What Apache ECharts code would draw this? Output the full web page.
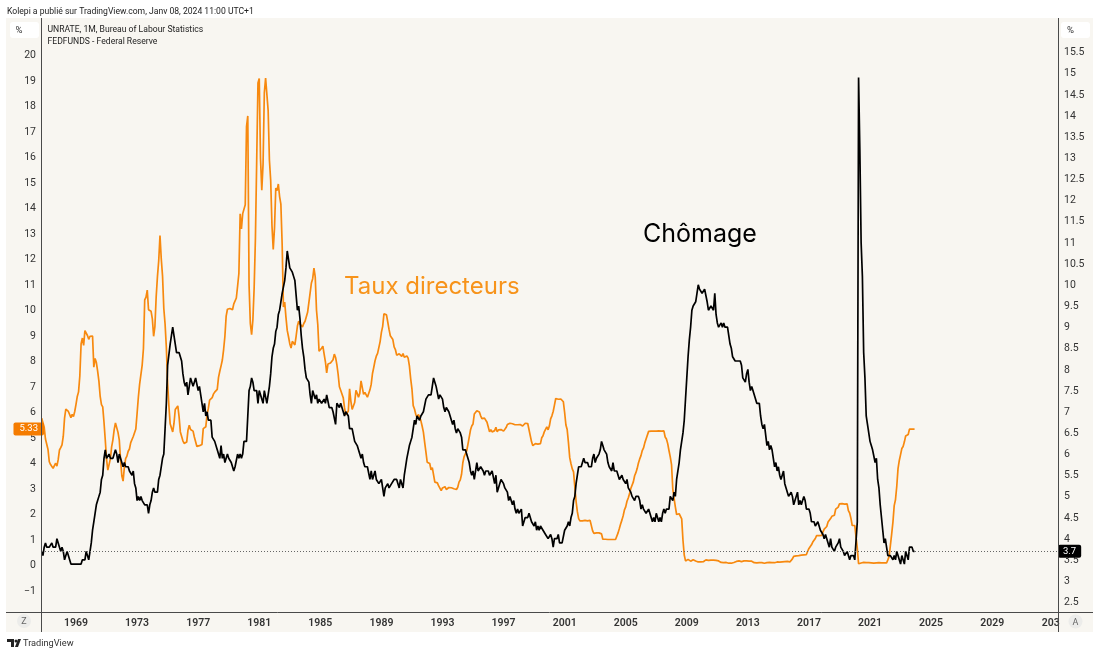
<!DOCTYPE html>
<html><head><meta charset="utf-8">
<style>html,body{margin:0;padding:0;background:#fff}#c{width:1100px;height:655px}</style>
<script src="https://cdn.jsdelivr.net/npm/echarts@6/dist/echarts.min.js"></script>
</head><body><div id="c"></div>
<script>
// Monthly series, first point October 1966
const firstYear = 1966, firstMonth = 9;
const unrate = [3.7,3.6,3.8,
3.9,3.8,3.8,3.8,3.8,3.9,3.8,3.8,3.8,4.0,3.9,3.8,
3.7,3.8,3.7,3.5,3.5,3.7,3.7,3.5,3.4,3.4,3.4,3.4,
3.4,3.4,3.4,3.4,3.4,3.5,3.5,3.5,3.7,3.7,3.5,3.5,
3.9,4.2,4.4,4.6,4.8,4.9,5.0,5.1,5.4,5.5,5.9,6.1,
5.9,5.9,6.0,5.9,5.9,5.9,6.0,6.1,6.0,5.8,6.0,6.0,
5.8,5.7,5.8,5.7,5.7,5.7,5.6,5.6,5.5,5.6,5.3,5.2,
4.9,5.0,4.9,5.0,4.9,4.9,4.8,4.8,4.8,4.6,4.8,4.9,
5.1,5.2,5.1,5.1,5.1,5.4,5.5,5.5,5.9,6.0,6.6,7.2,
8.1,8.1,8.6,8.8,9.0,8.8,8.6,8.4,8.4,8.4,8.3,8.2,
7.9,7.7,7.6,7.7,7.4,7.6,7.8,7.8,7.6,7.7,7.8,7.8,
7.5,7.6,7.4,7.2,7.0,7.2,6.9,7.0,6.8,6.8,6.8,6.4,
6.4,6.3,6.3,6.1,6.0,5.9,6.2,5.9,6.0,5.8,5.9,6.0,
5.9,5.9,5.8,5.8,5.6,5.7,5.7,6.0,5.9,6.0,5.9,6.0,
6.3,6.3,6.3,6.9,7.5,7.6,7.8,7.7,7.5,7.5,7.5,7.2,
7.5,7.4,7.4,7.2,7.5,7.5,7.2,7.4,7.6,7.9,8.3,8.5,
8.6,8.9,9.0,9.3,9.4,9.6,9.8,9.8,10.1,10.4,10.8,10.8,
10.4,10.4,10.3,10.2,10.1,10.1,9.4,9.5,9.2,8.8,8.5,8.3,
8.0,7.8,7.8,7.7,7.4,7.2,7.5,7.5,7.3,7.4,7.2,7.3,
7.3,7.2,7.2,7.3,7.2,7.4,7.4,7.1,7.1,7.1,7.0,7.0,
6.7,7.2,7.2,7.1,7.2,7.2,7.0,6.9,7.0,7.0,6.9,6.6,
6.6,6.6,6.6,6.3,6.3,6.2,6.1,6.0,5.9,6.0,5.8,5.7,
5.7,5.7,5.7,5.4,5.6,5.4,5.4,5.6,5.4,5.4,5.3,5.3,
5.4,5.2,5.0,5.2,5.2,5.3,5.2,5.2,5.3,5.3,5.4,5.4,
5.4,5.3,5.2,5.4,5.4,5.2,5.5,5.7,5.9,5.9,6.2,6.3,
6.4,6.6,6.8,6.7,6.9,6.9,6.8,6.9,6.9,7.0,7.0,7.3,
7.3,7.4,7.4,7.4,7.6,7.8,7.7,7.6,7.6,7.3,7.4,7.4,
7.3,7.1,7.0,7.1,7.1,7.0,6.9,6.8,6.7,6.8,6.6,6.5,
6.6,6.6,6.5,6.4,6.1,6.1,6.1,6.0,5.9,5.8,5.6,5.5,
5.6,5.4,5.4,5.8,5.6,5.6,5.7,5.7,5.6,5.5,5.6,5.6,
5.6,5.5,5.5,5.6,5.6,5.3,5.5,5.1,5.2,5.2,5.4,5.4,
5.3,5.2,5.2,5.1,4.9,5.0,4.9,4.8,4.9,4.7,4.6,4.7,
4.6,4.6,4.7,4.3,4.4,4.5,4.5,4.5,4.6,4.5,4.4,4.4,
4.3,4.4,4.2,4.3,4.2,4.3,4.3,4.2,4.2,4.1,4.1,4.0,
4.0,4.1,4.0,3.8,4.0,4.0,4.0,4.1,3.9,3.9,3.9,3.9,
4.2,4.2,4.3,4.4,4.3,4.5,4.6,4.9,5.0,5.3,5.5,5.7,
5.7,5.7,5.7,5.9,5.8,5.8,5.8,5.7,5.7,5.7,5.9,6.0,
5.8,5.9,5.9,6.0,6.1,6.3,6.2,6.1,6.1,6.0,5.8,5.7,
5.7,5.6,5.8,5.6,5.6,5.6,5.5,5.4,5.4,5.5,5.4,5.4,
5.3,5.4,5.2,5.2,5.1,5.0,5.0,4.9,5.0,5.0,5.0,4.9,
4.7,4.8,4.7,4.7,4.6,4.6,4.7,4.7,4.5,4.4,4.5,4.4,
4.6,4.5,4.4,4.5,4.4,4.6,4.7,4.6,4.7,4.7,4.7,5.0,
5.0,4.9,5.1,5.0,5.4,5.6,5.8,6.1,6.1,6.5,6.8,7.3,
7.8,8.3,8.7,9.0,9.4,9.5,9.5,9.6,9.8,10.0,9.9,9.9,
9.8,9.8,9.9,9.9,9.6,9.4,9.4,9.5,9.5,9.4,9.8,9.3,
9.1,9.0,9.0,9.1,9.0,9.1,9.0,9.0,9.0,8.8,8.6,8.5,
8.3,8.3,8.2,8.2,8.2,8.2,8.2,8.1,7.8,7.8,7.7,7.9,
8.0,7.7,7.5,7.6,7.5,7.5,7.3,7.2,7.2,7.2,6.9,6.7,
6.6,6.7,6.7,6.2,6.3,6.1,6.2,6.1,5.9,5.7,5.8,5.6,
5.7,5.5,5.4,5.4,5.6,5.3,5.2,5.1,5.0,5.0,5.1,5.0,
4.8,4.9,5.0,5.1,4.8,4.9,4.8,4.9,5.0,4.9,4.7,4.7,
4.7,4.6,4.4,4.4,4.4,4.3,4.3,4.4,4.3,4.2,4.2,4.1,
4.0,4.1,4.0,4.0,3.8,4.0,3.8,3.8,3.7,3.8,3.8,3.9,
4.0,3.8,3.8,3.7,3.6,3.6,3.7,3.6,3.5,3.6,3.6,3.6,
3.5,3.5,4.4,14.9,13.2,11.0,10.2,8.4,7.8,6.9,6.7,6.7,
6.3,6.2,6.1,6.1,5.8,5.9,5.4,5.2,4.8,4.5,4.2,3.9,
4.0,3.8,3.6,3.6,3.6,3.6,3.5,3.6,3.5,3.7,3.6,3.5,
3.4,3.6,3.5,3.4,3.7,3.6,3.5,3.8,3.8,3.8,3.7,3.7];
const fedfunds = [5.76,5.76,5.40,
4.94,5.00,4.53,4.05,3.94,3.98,3.79,3.90,3.99,3.88,4.13,4.51,
4.60,4.71,5.05,5.76,6.11,6.07,6.02,6.03,5.78,5.91,5.82,6.02,
6.30,6.61,6.79,7.41,8.67,8.90,8.61,9.19,9.15,9.00,8.85,8.97,
8.98,8.98,7.76,8.10,7.94,7.60,7.21,6.61,6.29,6.20,5.60,4.90,
4.14,3.72,3.71,4.16,4.63,4.91,5.31,5.57,5.55,5.20,4.91,4.14,
3.50,3.29,3.83,4.17,4.27,4.46,4.55,4.80,4.87,5.04,5.06,5.33,
5.94,6.58,7.09,7.12,7.84,8.49,10.40,10.50,10.78,10.01,10.03,9.95,
9.65,8.97,9.35,10.51,11.31,11.93,12.92,12.01,11.34,10.06,9.45,8.53,
7.13,6.24,5.54,5.49,5.22,5.55,6.10,6.14,6.24,5.82,5.22,5.20,
4.87,4.77,4.84,4.82,5.29,5.48,5.31,5.29,5.25,5.02,4.95,4.65,
4.61,4.68,4.69,4.73,5.35,5.39,5.42,5.90,6.14,6.47,6.51,6.56,
6.70,6.78,6.79,6.89,7.36,7.60,7.81,8.04,8.45,8.96,9.76,10.03,
10.07,10.06,10.09,10.01,10.24,10.29,10.47,10.94,11.43,13.77,13.18,13.78,
13.82,14.13,17.19,17.61,10.98,9.47,9.03,9.61,10.87,12.81,15.85,18.90,
19.08,15.93,14.70,15.72,18.52,19.10,19.04,17.82,15.87,15.08,13.31,12.37,
13.22,14.78,14.68,14.94,14.45,14.15,12.59,10.12,10.31,9.71,9.20,8.95,
8.68,8.51,8.77,8.80,8.63,8.98,9.37,9.56,9.45,9.48,9.34,9.47,
9.56,9.59,9.91,10.29,10.32,11.06,11.23,11.64,11.30,9.99,9.43,8.38,
8.35,8.50,8.58,8.27,7.97,7.53,7.88,7.90,7.92,7.99,8.05,8.27,
8.14,7.86,7.48,6.99,6.85,6.92,6.56,6.17,5.89,5.85,6.04,6.91,
6.43,6.10,6.13,6.37,6.85,6.73,6.58,6.73,7.22,7.29,6.69,6.77,
6.83,6.58,6.58,6.87,7.09,7.51,7.75,8.01,8.19,8.30,8.35,8.76,
9.12,9.36,9.85,9.84,9.81,9.53,9.24,8.99,9.02,8.84,8.55,8.45,
8.23,8.24,8.28,8.26,8.18,8.29,8.15,8.13,8.20,8.11,7.81,7.31,
6.91,6.25,6.12,5.91,5.78,5.90,5.82,5.66,5.45,5.21,4.81,4.43,
4.03,4.06,3.98,3.73,3.82,3.76,3.25,3.30,3.22,3.10,3.09,2.92,
3.02,3.03,3.07,2.96,3.00,3.04,3.06,3.03,3.09,2.99,3.02,2.96,
3.05,3.25,3.34,3.56,4.01,4.25,4.26,4.47,4.73,4.76,5.29,5.45,
5.53,5.92,5.98,6.05,6.01,6.00,5.85,5.74,5.80,5.76,5.80,5.60,
5.56,5.22,5.31,5.22,5.24,5.27,5.40,5.22,5.30,5.24,5.31,5.29,
5.25,5.19,5.39,5.51,5.50,5.56,5.52,5.54,5.54,5.50,5.52,5.50,
5.56,5.51,5.49,5.45,5.49,5.56,5.54,5.55,5.51,5.07,4.83,4.68,
4.63,4.76,4.81,4.74,4.74,4.76,4.99,5.07,5.22,5.20,5.42,5.30,
5.45,5.73,5.85,6.02,6.27,6.53,6.54,6.50,6.52,6.51,6.51,6.40,
5.98,5.49,5.31,4.80,4.21,3.97,3.77,3.65,3.07,2.49,2.09,1.82,
1.73,1.74,1.73,1.75,1.75,1.75,1.73,1.74,1.75,1.75,1.34,1.24,
1.24,1.26,1.25,1.26,1.26,1.22,1.01,1.03,1.01,1.01,1.00,0.98,
1.00,1.01,1.00,1.00,1.00,1.03,1.26,1.43,1.61,1.76,1.93,2.16,
2.28,2.50,2.63,2.79,3.00,3.04,3.26,3.50,3.62,3.78,4.00,4.16,
4.29,4.49,4.59,4.79,4.94,4.99,5.24,5.25,5.25,5.25,5.25,5.24,
5.25,5.26,5.26,5.25,5.25,5.25,5.26,5.02,4.94,4.76,4.49,4.24,
3.94,2.98,2.61,2.28,1.98,2.00,2.01,2.00,1.81,0.97,0.39,0.16,
0.15,0.22,0.18,0.15,0.18,0.21,0.16,0.16,0.15,0.12,0.12,0.12,
0.11,0.13,0.16,0.20,0.20,0.18,0.18,0.19,0.19,0.19,0.19,0.18,
0.17,0.16,0.14,0.10,0.09,0.09,0.07,0.10,0.08,0.07,0.08,0.07,
0.08,0.10,0.13,0.14,0.16,0.16,0.16,0.13,0.14,0.16,0.16,0.16,
0.14,0.15,0.14,0.15,0.11,0.09,0.09,0.08,0.08,0.09,0.08,0.09,
0.07,0.07,0.08,0.09,0.09,0.10,0.09,0.09,0.09,0.09,0.09,0.12,
0.11,0.11,0.11,0.12,0.12,0.13,0.13,0.14,0.14,0.12,0.12,0.24,
0.34,0.38,0.36,0.37,0.37,0.38,0.39,0.40,0.40,0.40,0.41,0.54,
0.65,0.66,0.79,0.90,0.91,1.04,1.15,1.16,1.15,1.15,1.16,1.30,
1.41,1.42,1.51,1.69,1.70,1.82,1.91,1.91,1.95,2.19,2.20,2.27,
2.40,2.40,2.41,2.42,2.39,2.38,2.40,2.13,2.04,1.83,1.55,1.55,
1.55,1.58,0.65,0.05,0.05,0.08,0.09,0.10,0.09,0.09,0.09,0.09,
0.09,0.08,0.07,0.07,0.06,0.08,0.10,0.09,0.08,0.08,0.08,0.08,
0.08,0.08,0.20,0.33,0.77,1.21,1.68,2.33,2.56,3.08,3.78,4.10,
4.33,4.57,4.65,4.83,5.06,5.08,5.12,5.33,5.33,5.33,5.33,5.33];
const xTicks = [1969,1973,1977,1981,1985,1989,1993,1997,2001,2005,2009,2013,2017,2021,2025,2029,2033];
const leftTicks = [-1,0,1,2,3,4,5,6,7,8,9,10,11,12,13,14,15,16,17,18,19,20];
const rightTicks = [2.5,3,3.5,4,4.5,5,5.5,6,6.5,7,7.5,8,8.5,9,9.5,10,10.5,11,11.5,12,12.5,13,13.5,14,14.5,15,15.5];
const lastFed = 5.33, lastUnrate = 3.7;

const FONT = 'Roboto, "Liberation Sans", sans-serif';
const BIG = 'Inter, Roboto, sans-serif';
const BG = '#f8f6f1', AXIS = '#4a4a4a', TXT = '#333', ORANGE = '#f7890f';
const toXY = (arr) => arr.map((v, i) => [firstYear + (firstMonth + i) / 12, v]);

const chart = echarts.init(document.getElementById('c'), null, {renderer: 'canvas'});
const txt = (x, y, text, size, fill, extra) => ({type: 'text', z: 20, x, y, style: Object.assign({text, font: size + 'px ' + FONT, fill, textVerticalAlign: 'middle'}, extra || {})});
chart.setOption({
  animation: false,
  backgroundColor: '#fff',
  textStyle: {fontFamily: FONT},
  grid: {left: 42, right: 42, top: 18, bottom: 43},
  xAxis: {
    type: 'value', min: 1966.773, max: 2033.31,
    splitLine: {show: false}, axisLine: {show: false}, axisTick: {show: false},
    axisLabel: {
      customValues: xTicks, margin: 6, color: TXT, fontFamily: FONT, fontSize: 10.5, fontWeight: 600, hideOverlap: false,
      formatter: (v) => v === 2033 ? '{cut|203}' : String(v),
      rich: {cut: {padding: [0, 5, 0, 0], color: TXT, fontFamily: FONT, fontSize: 10.5, fontWeight: 600}}
    }
  },
  yAxis: [
    {type: 'value', position: 'left', min: -1.843, max: 21.451,
     splitLine: {show: false}, axisLine: {show: false}, axisTick: {show: false},
     axisLabel: {customValues: leftTicks, margin: 6, verticalAlign: 'top', padding: [-5, 0, 0, 0], color: TXT, fontFamily: FONT, fontSize: 10.5,
       formatter: (v) => String(v).replace('-', '\u2212')}},
    {type: 'value', position: 'right', min: 2.267, max: 16.307,
     splitLine: {show: false}, axisLine: {show: false}, axisTick: {show: false},
     axisLabel: {customValues: rightTicks, margin: 6, verticalAlign: 'top', padding: [-5, 0, 0, 0], color: TXT, fontFamily: FONT, fontSize: 10.5}}
  ],
  series: [
    {name: 'FEDFUNDS', type: 'line', yAxisIndex: 0, data: toXY(fedfunds), showSymbol: false, symbol: 'none',
     lineStyle: {color: ORANGE, width: 1.7}, z: 3, silent: true,
     markLine: {silent: true, symbol: 'none', animation: false, lineStyle: {color: 'rgba(0,0,0,0)', width: 0},
       data: [{yAxis: lastFed}],
       label: {position: 'start', distance: -2, formatter: String(lastFed), color: '#fff', backgroundColor: '#f57c00',
         borderRadius: 2, padding: [2, 6, 1, 6], fontSize: 9.5, fontFamily: FONT}}},
    {name: 'UNRATE', type: 'line', yAxisIndex: 1, data: toXY(unrate), showSymbol: false, symbol: 'none',
     lineStyle: {color: '#000', width: 1.7}, z: 4, silent: true,
     markLine: {silent: true, symbol: 'none', animation: false,
       lineStyle: {color: '#666', type: [1, 2], width: 1},
       data: [{yAxis: lastUnrate}],
       label: {position: 'end', distance: 0, formatter: String(lastUnrate), color: '#fff', backgroundColor: '#000',
         borderRadius: 2, padding: [2, 5, 1, 5], fontSize: 9.5, fontFamily: FONT}}}
  ],
  graphic: [
    {type: 'rect', z: -10, shape: {x: 6, y: 18, width: 1087, height: 614}, style: {fill: BG}},
    {type: 'line', z: 10, shape: {x1: 41.5, y1: 18, x2: 41.5, y2: 632}, style: {stroke: AXIS, lineWidth: 1}},
    {type: 'line', z: 10, shape: {x1: 1058.5, y1: 18, x2: 1058.5, y2: 632}, style: {stroke: AXIS, lineWidth: 1}},
    {type: 'line', z: 10, shape: {x1: 6, y1: 612.5, x2: 1093, y2: 612.5}, style: {stroke: AXIS, lineWidth: 1}},
    {type: 'rect', z: 11, shape: {x: 10, y: 22, width: 29, height: 16, r: 3}, style: {fill: '#fff'}},
    {type: 'rect', z: 11, shape: {x: 1061, y: 22, width: 29, height: 16, r: 3}, style: {fill: '#fff'}},
    txt(15.5, 31, '%', 9.5, TXT),
    txt(1067, 31, '%', 9.5, TXT),
    {type: 'circle', z: 11, shape: {cx: 24, cy: 621, r: 7}, style: {fill: '#ececea'}},
    {type: 'circle', z: 11, shape: {cx: 1075.5, cy: 621.5, r: 7}, style: {fill: '#ececea'}},
    txt(24, 622, 'Z', 9, '#666', {textAlign: 'center'}),
    txt(1075.5, 622.5, 'A', 9, '#666', {textAlign: 'center'}),
    txt(7, 12, 'Kolepi a publié sur TradingView.com, Janv 08, 2024 11:00 UTC+1', 8.6, '#222'),
    txt(47.5, 30, 'UNRATE, 1M, Bureau of Labour Statistics', 8.6, '#222'),
    txt(47.5, 42, 'FEDFUNDS - Federal Reserve', 8.6, '#222'),
    {type: 'text', z: 20, x: 344, y: 287, style: {text: 'Taux directeurs', font: '24px ' + BIG, fill: '#f7931a', textVerticalAlign: 'middle'}},
    {type: 'text', z: 20, x: 643, y: 234, style: {text: 'Chômage', font: '25px ' + BIG, fill: '#000', textVerticalAlign: 'middle'}},
    {type: 'polygon', z: 20, shape: {points: [[7,639],[14,639],[14,647],[11,647],[11,642],[7,642]]}, style: {fill: '#222'}},
    {type: 'polygon', z: 20, shape: {points: [[15,647],[18,639],[21,639],[18,647]]}, style: {fill: '#222'}},
    {type: 'circle', z: 20, shape: {cx: 16, cy: 641, r: 1.5}, style: {fill: '#222'}},
    txt(23, 644, 'TradingView', 9.2, '#333')
  ]
});
</script></body></html>
